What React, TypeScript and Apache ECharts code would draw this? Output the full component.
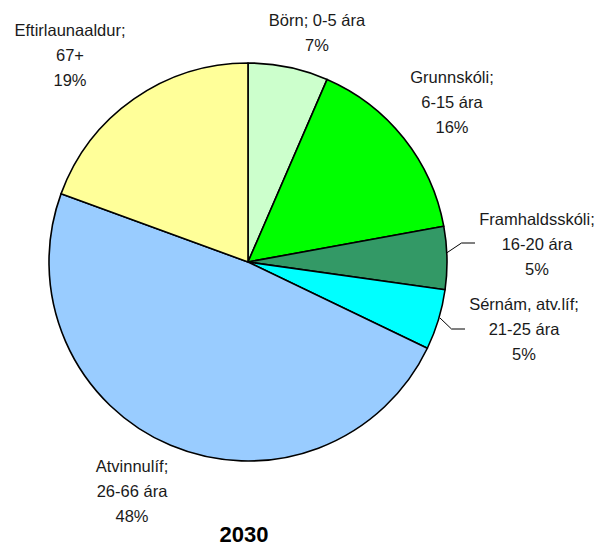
import React, { useEffect, useRef } from "react";
import * as echarts from "echarts";

const categories = ["Börn", "Grunnskóli", "Framhaldsskóli", "Sérnám, atv.líf", "Atvinnulíf", "Eftirlaunaaldur"];
const ages = ["0-5 ára", "6-15 ára", "16-20 ára", "21-25 ára", "26-66 ára", "67+"];
const values = [6.5, 15.6, 5.1, 4.9, 48.4, 19.4];
const colors = ["#CCFFCC", "#00FF00", "#339966", "#00FFFF", "#99CCFF", "#FFFF99"];
const title = "2030";

// label layout (block centres) and leader lines
const labelPos: [number, number][] = [
  [317, 32],
  [452, 102],
  [537, 244],
  [524, 329],
  [132, 491],
  [70, 55],
];
const leaderLines: ([number, number][] | null)[] = [
  null,
  null,
  [[446.5, 253], [461.5, 243], [475, 243]],
  [[440, 318], [451.5, 329], [465, 329]],
  null,
  null,
];

export default function App() {
  const ref = useRef<HTMLDivElement>(null);
  useEffect(() => {
    if (!ref.current) return;
    const chart = echarts.init(ref.current, undefined, { renderer: "svg" });
    const data = categories.map((c, i) => ({
      name: c,
      value: values[i],
      itemStyle: { color: colors[i] },
      labelLine: { show: !!leaderLines[i] },
    }));
    chart.setOption({
      animation: false,
      backgroundColor: "#ffffff",
      title: {
        text: title,
        left: 244,
        top: 524,
        padding: 0,
        textAlign: "center",
        textStyle: {
          fontFamily: "Liberation Sans, Arial, sans-serif",
          fontSize: 22,
          lineHeight: 20,
          fontWeight: "bold",
          color: "#000",
        },
      },
      series: [
        {
          type: "pie",
          center: [248, 262],
          radius: 199,
          startAngle: 90,
          clockwise: true,
          avoidLabelOverlap: false,
          silent: true,
          data,
          itemStyle: { borderColor: "#000", borderWidth: 1.6 },
          label: {
            show: true,
            position: "outside",
            fontFamily: "Liberation Sans, Arial, sans-serif",
            fontSize: 16.5,
            lineHeight: 25,
            color: "#1a1a1a",
            align: "center",
            formatter: (p: any) => {
              const pct = Math.round(p.percent) + "%";
              const i = p.dataIndex;
              return i === 0
                ? `${categories[i]}; ${ages[i]}\n${pct}`
                : `${categories[i]};\n${ages[i]}\n${pct}`;
            },
          },
          labelLine: { show: false, lineStyle: { color: "#000", width: 1 } },
          labelLayout: (params: any) => {
            const i = params.dataIndex;
            const p = labelPos[i];
            const out: any = { x: p[0], y: p[1], align: "center", verticalAlign: "middle" };
            if (leaderLines[i]) out.labelLinePoints = leaderLines[i];
            return out;
          },
        },
      ],
    });
    return () => chart.dispose();
  }, []);
  return (
    <div
      ref={ref}
      style={{ position: "fixed", left: 0, top: 0, width: 604, height: 546 }}
    />
  );
}
